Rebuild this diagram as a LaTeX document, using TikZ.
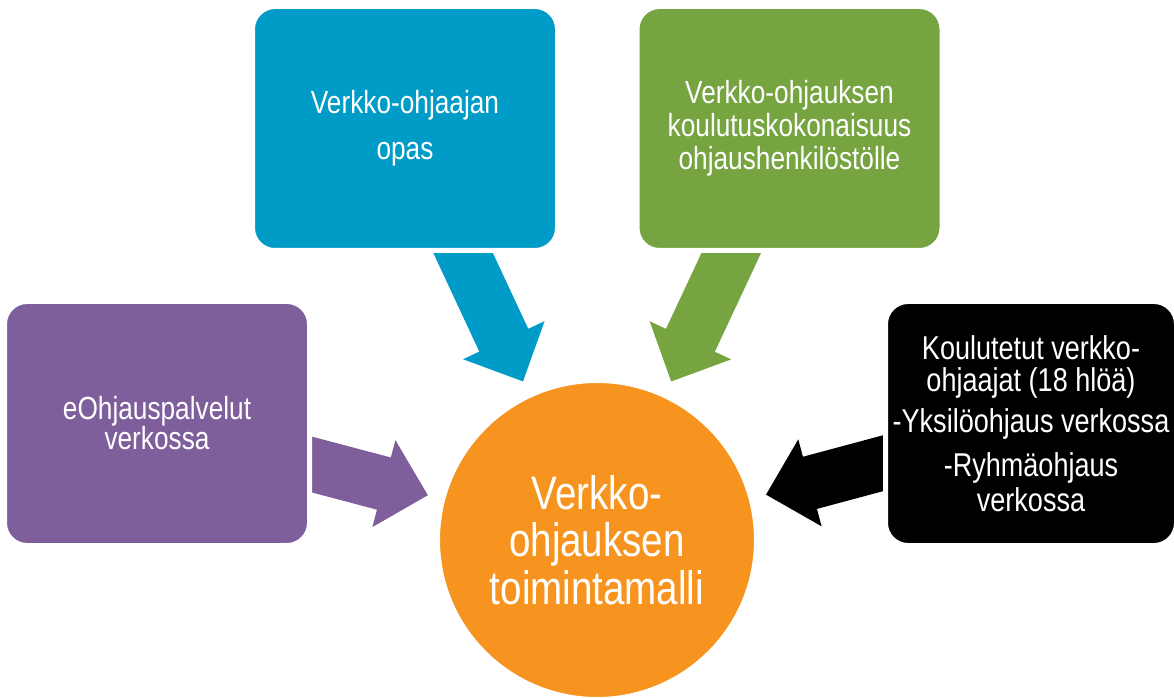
\documentclass[tikz,border=0pt]{standalone}
\usepackage{fontspec}
\setmainfont{Liberation Sans}[FakeStretch=0.82]
\usetikzlibrary{calc,backgrounds}
\definecolor{tileblue}{HTML}{009BC7}
\definecolor{tilegreen}{HTML}{76A441}
\definecolor{tilepurple}{HTML}{7F5E9C}
\definecolor{huborange}{HTML}{F7941F}
\tikzset{
    tile/.style={rectangle, rounded corners=16.9pt, draw=white, line width=3.75pt,
        minimum width=228.75pt, minimum height=183pt, inner sep=0pt,
        text=white, align=center, font=\fontsize{24}{24.75}\selectfont},
    hub/.style={circle, draw=white, line width=3.75pt, fill=huborange,
        minimum size=239.25pt, inner sep=0pt,
        text=white, align=center, font=\fontsize{35.25}{35.6}\selectfont}
}
\newcommand{\blockarrow}[3]{
    \coordinate (#2-tip) at ($(#3.center)!131.25pt!(#2.center)$);
    \coordinate (#2-base) at ($(#2-tip)!34.1pt!(#2.center)$);
    \fill[#1] ($(#2.center)!20.25pt!90:(#2-tip)$) -- ($(#2-base)!20.25pt!90:(#2-tip)$)
        -- ($(#2-base)!33.75pt!90:(#2-tip)$) -- (#2-tip)
        -- ($(#2-base)!33.75pt!-90:(#2-tip)$) -- ($(#2-base)!20.25pt!-90:(#2-tip)$)
        -- ($(#2.center)!20.25pt!-90:(#2-tip)$) -- cycle;
}
\begin{document}
\begin{tikzpicture}[x=0.75pt, y=-0.75pt]
    \useasboundingbox (0,0) rectangle (1174,698);
    \node[tile, fill=tileblue] (guide) at (405,128.5) {Verkko-ohjaajan\\[9.75pt]opas};
    \node[tile, fill=tilegreen] (training) at (789.5,128.5)
        {Verkko-ohjauksen\\koulutuskokonaisuus\\ohjaushenkilöstölle};
    \node[tile, fill=tilepurple, font=\fontsize{24}{22.5}\selectfont] (eservices) at (157,423.5)
        {eOhjauspalvelut\\verkossa};
    \node[tile, fill=black, minimum width=218.25pt, font=\fontsize{24.75}{24}\selectfont] (tutors) at (1031,423.5)
        {Koulutetut verkko-\\ohjaajat (18 hlöä)\\[7pt]-Yksilöohjaus verkossa\\[9pt]-Ryhmäohjaus\\[2pt]verkossa};
    \node[hub] (model) at (597,540) {Verkko-\\ohjauksen\\toimintamalli};
    \begin{pgfonlayer}{background}
        \blockarrow{tileblue}{guide}{model}
        \blockarrow{tilegreen}{training}{model}
        \blockarrow{tilepurple}{eservices}{model}
        \blockarrow{black}{tutors}{model}
    \end{pgfonlayer}
\end{tikzpicture}
\end{document}
